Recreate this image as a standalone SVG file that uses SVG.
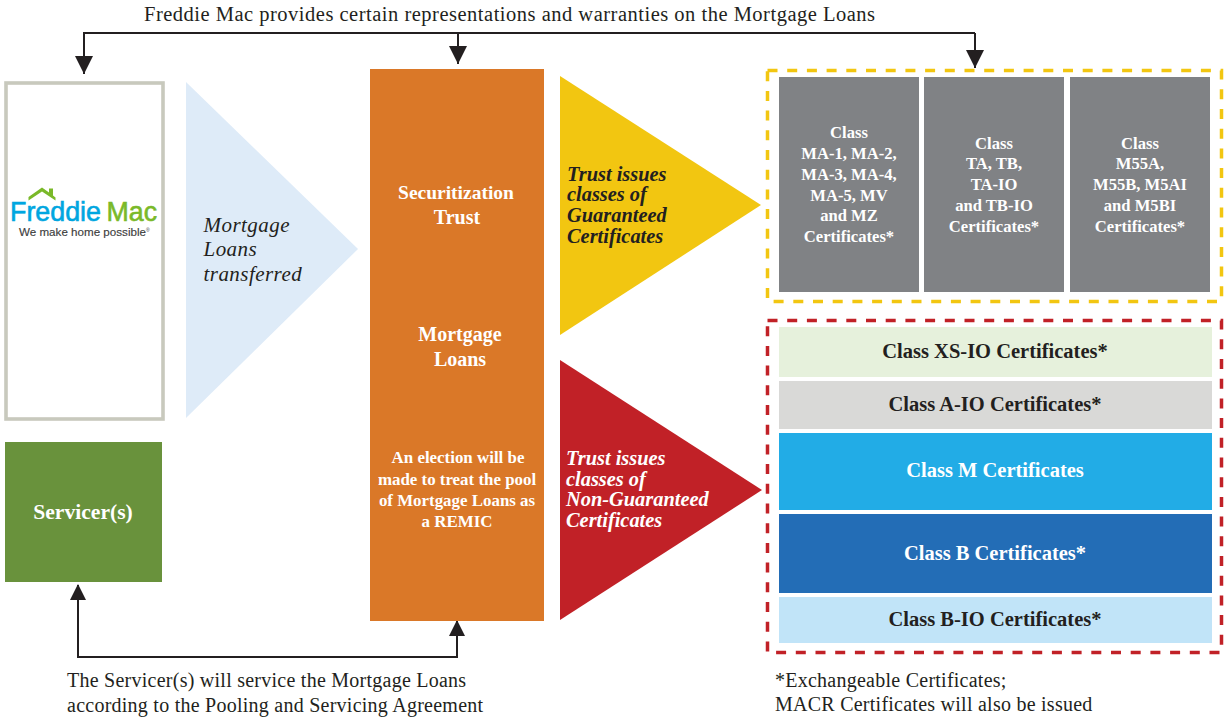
<svg xmlns="http://www.w3.org/2000/svg" width="1225" height="719" viewBox="0 0 1225 719">
<style>
text{font-family:"Liberation Serif","Times New Roman",serif}
.n{font-size:20px;fill:#231f20;letter-spacing:.25px}
.t{font-size:20.5px;fill:#231f20;letter-spacing:.5px}
.w{font-size:20px;font-weight:bold;fill:#fff;text-anchor:middle}
.v{font-size:21.600px;font-weight:bold;fill:#fff;text-anchor:middle}
.l{font-size:16.900px;font-weight:bold;fill:#fff;text-anchor:middle}
.s{font-size:16.600px;font-weight:bold;fill:#fff;text-anchor:middle}
.c{font-size:20.500px;font-weight:bold;text-anchor:middle}
.i{font-size:20.400px;font-weight:bold;font-style:italic}
.m{font-size:21px;font-style:italic;fill:#231f20;letter-spacing:.45px}
.logo{font-family:"Liberation Sans",Arial,sans-serif}
.line{fill:none;stroke:#231f20;stroke-width:2}
</style>
<defs>
<marker id="a" markerUnits="userSpaceOnUse" markerWidth="18" markerHeight="18" viewBox="0 0 16 16" refX="16" refY="8" orient="auto"><path d="M0 0L16 8L0 16Z" fill="#231f20"/></marker>
</defs>
<text class="t" x="144" y="21">Freddie Mac provides certain representations and warranties on the Mortgage Loans</text>
<g id="connectors">
<path class="line" d="M975 33H84V74" marker-end="url(#a)"/>
<path class="line" d="M458 33V64" marker-end="url(#a)"/>
<path class="line" d="M975 33V68" marker-end="url(#a)"/>
<path class="line" d="M78 585V657H457V621"/>
<path d="M78 584L86 600H70Z" fill="#231f20"/>
<path d="M457 620L465 636H449Z" fill="#231f20"/>
</g>
<g id="freddie-mac">
<rect x="6" y="83" width="157" height="336" fill="#fff" stroke="#c8c9bd" stroke-width="3.600"/>
<path d="M28.500 197L42 187.500L49 192.500V188.500H53V195.500L55.500 197.500V200.500L42 191.500L28.500 200.500Z" fill="#7ab929"/>
<text class="logo" x="10" y="220.500" font-size="27" fill="#00a6e0" stroke="#00a6e0" stroke-width=".6" textLength="91" lengthAdjust="spacingAndGlyphs">Freddie</text>
<text class="logo" x="106.500" y="220.500" font-size="27" fill="#7ab929" stroke="#7ab929" stroke-width=".6" textLength="50.500" lengthAdjust="spacingAndGlyphs">Mac</text>
<text class="logo" x="19" y="235.500" font-size="11.500" fill="#3d3d3d" stroke="#3d3d3d" stroke-width=".15" textLength="127" lengthAdjust="spacingAndGlyphs">We make home possible</text>
<text class="logo" x="146" y="232" font-size="5" fill="#3d3d3d">®</text>
</g>
<g id="loans-transferred">
<path d="M186 82L358 249L186 418Z" fill="#deebf8"/>
<text class="m" x="203.500" y="232">Mortgage</text>
<text class="m" x="203.500" y="256">Loans</text>
<text class="m" x="203.500" y="281">transferred</text>
</g>
<g id="servicer">
<rect x="5" y="442" width="157" height="140" fill="#69923c"/>
<text class="v" x="83" y="519">Servicer(s)</text>
</g>
<g id="trust">
<rect x="370" y="69" width="174" height="552" fill="#da7828"/>
<text class="w" x="456" y="199" style="font-size:19.500px">Securitization</text>
<text class="w" x="457" y="224">Trust</text>
<text class="w" x="460" y="341">Mortgage</text>
<text class="w" x="460" y="366">Loans</text>
<text class="l" x="458" y="463">An election will be</text>
<text class="l" x="457" y="485">made to treat the pool</text>
<text class="l" x="457" y="506">of Mortgage Loans as</text>
<text class="l" x="457" y="527">a REMIC</text>
</g>
<g id="guaranteed-arrow">
<path d="M560 76L761 205L560 335Z" fill="#f2c611"/>
<text class="i" x="567" y="181" fill="#231f20">Trust issues</text>
<text class="i" x="567" y="201" fill="#231f20">classes of</text>
<text class="i" x="567" y="222" fill="#231f20">Guaranteed</text>
<text class="i" x="567" y="243" fill="#231f20">Certificates</text>
</g>
<g id="non-guaranteed-arrow">
<path d="M560 360L762 490L560 620Z" fill="#c12127"/>
<text class="i" x="566" y="465" fill="#fff">Trust issues</text>
<text class="i" x="566" y="486" fill="#fff">classes of</text>
<text class="i" x="566" y="506" fill="#fff">Non-Guaranteed</text>
<text class="i" x="566" y="527" fill="#fff">Certificates</text>
</g>
<g id="guaranteed-group">
<rect x="767.500" y="70.500" width="454" height="231" fill="none" stroke="#f2c611" stroke-width="3.500" stroke-dasharray="10 9.700"/>
</g>
<g id="class-ma">
<rect x="779" y="77" width="140" height="215" fill="#808285"/>
<text class="s" x="849" y="138">Class</text>
<text class="s" x="849" y="159">MA-1, MA-2,</text>
<text class="s" x="849" y="180">MA-3, MA-4,</text>
<text class="s" x="849" y="201">MA-5, MV</text>
<text class="s" x="849" y="221">and MZ</text>
<text class="s" x="849" y="242">Certificates*</text>
</g>
<g id="class-ta">
<rect x="924" y="77" width="140" height="215" fill="#808285"/>
<text class="s" x="994" y="149">Class</text>
<text class="s" x="994" y="169">TA, TB,</text>
<text class="s" x="994" y="190">TA-IO</text>
<text class="s" x="994" y="211">and TB-IO</text>
<text class="s" x="994" y="232">Certificates*</text>
</g>
<g id="class-m55">
<rect x="1070" y="77" width="140" height="215" fill="#808285"/>
<text class="s" x="1140" y="149">Class</text>
<text class="s" x="1140" y="169">M55A,</text>
<text class="s" x="1140" y="190">M55B, M5AI</text>
<text class="s" x="1140" y="211">and M5BI</text>
<text class="s" x="1140" y="232">Certificates*</text>
</g>
<g id="non-guaranteed-group">
<rect x="767.500" y="320.500" width="454" height="332" fill="none" stroke="#c12127" stroke-width="3.500" stroke-dasharray="10 9.700"/>
</g>
<g id="class-xs"><rect x="779" y="327" width="433" height="50" fill="#e6f1dc"/><text class="c" x="995" y="358" fill="#231f20">Class XS-IO Certificates*</text></g>
<g id="class-a"><rect x="779" y="381" width="433" height="48" fill="#d9d9d7"/><text class="c" x="995" y="411" fill="#231f20">Class A-IO Certificates*</text></g>
<g id="class-m"><rect x="779" y="433" width="433" height="77" fill="#22ace6"/><text class="c" x="995" y="477" fill="#fff">Class M Certificates</text></g>
<g id="class-b"><rect x="779" y="514" width="433" height="79" fill="#236db6"/><text class="c" x="995" y="560" fill="#fff">Class B Certificates*</text></g>
<g id="class-bio"><rect x="779" y="597" width="433" height="46" fill="#c1e4f8"/><text class="c" x="995" y="626" fill="#231f20">Class B-IO Certificates*</text></g>
<text class="n" x="67" y="687">The Servicer(s) will service the Mortgage Loans</text>
<text class="n" x="67" y="712">according to the Pooling and Servicing Agreement</text>
<text class="n" x="775" y="687">*Exchangeable Certificates;</text>
<text class="n" x="775" y="711">MACR Certificates will also be issued</text>
</svg>
